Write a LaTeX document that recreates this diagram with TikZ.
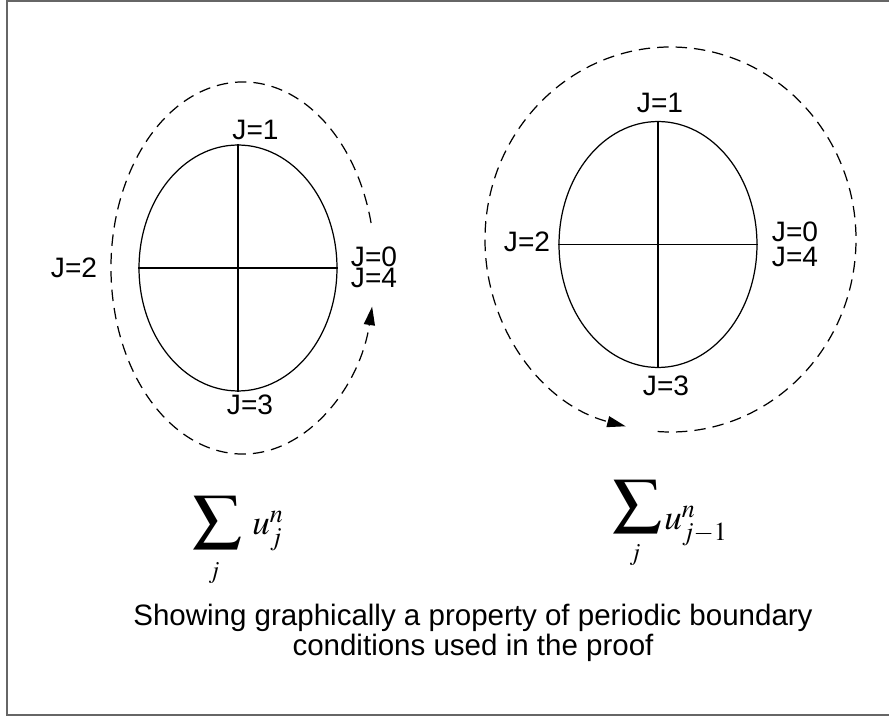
\documentclass[tikz,border=0pt]{standalone}
\usepackage{graphicx}
\usepackage{mathptmx}
\usepackage[no-math]{fontspec}
\setmainfont{Liberation Sans}
\usetikzlibrary{arrows.meta,shapes.geometric}

\begin{document}
\begin{tikzpicture}[x=0.02cm,y=0.02cm,
  ring/.style={draw,ellipse,line width=0.7pt,minimum width=3.96cm,minimum height=4.92cm,inner sep=0pt},
  lab/.style={font=\fontsize{16}{17}\selectfont,inner sep=0pt,anchor=base},
  flow/.style={line width=0.7pt,dash pattern=on 6.5pt off 4pt,-{Triangle[length=10.5pt,width=6.3pt]}},
  axis/.style={line width=0.7pt},
  frame/.style={line width=1.1pt,draw=black!60},
  sigma/.style={inner sep=0pt},
  term/.style={font=\fontsize{20}{24}\selectfont,inner sep=0pt,anchor=base west},
  index/.style={font=\fontsize{14}{16}\selectfont,inner sep=0pt}
]
\useasboundingbox (0,0) rectangle (889,717);
% frame
\coordinate (ftr) at (895,716);
\coordinate (ftl) at (7,716);
\coordinate (fbl) at (7,2);
\coordinate (fbr) at (895,2);
\draw[frame] (ftr) -- (ftl) -- (fbl) -- (fbr);
% left picture
\node[ring] (ringL) at (238,449) {};
\draw[axis] (ringL.west) -- (ringL.east);
\draw[axis] (ringL.north) -- (ringL.south);
\node[lab] (L1) at (255.5,577) {J=1};
\node[lab] (L2) at (74,439) {J=2};
\node[lab] (L0) at (374,450) {J=0};
\node[lab] (L4) at (374,429) {J=4};
\node[lab] (L3) at (250,302) {J=3};
\coordinate (cL) at (243,449);
\draw[flow] ([shift={(14:132 and 186)}]cL) arc[start angle=14,end angle=348,x radius=132,y radius=186];
% right picture
\node[ring] (ringR) at (658,472.5) {};
\draw[axis] (ringR.west) -- (ringR.east);
\draw[axis] (ringR.north) -- (ringR.south);
\node[lab] (R1) at (660,604) {J=1};
\node[lab] (R2) at (527,465) {J=2};
\node[lab] (R0) at (795,475) {J=0};
\node[lab] (R4) at (795,450) {J=4};
\node[lab] (R3) at (666,321) {J=3};
\coordinate (cR) at (670.5,477.5);
\draw[flow] ([shift={(-94:185.5 and 192.5)}]cR) arc[start angle=-94,end angle=256,x radius=185.5,y radius=192.5];
% sums
\node[sigma] (sigL) at (217.5,194) {\resizebox*{1cm}{1.06cm}{$\displaystyle\sum$}};
\node[term] (uL) at (252,182) {$u_j^n$};
\node[index] (jL) at (214,144) {$j$};
\node[sigma] (sigR) at (637.5,210) {\resizebox*{1cm}{1.06cm}{$\displaystyle\sum$}};
\node[term] (uR) at (664,187) {$u_{j-1}^n$};
\node[index] (jR) at (635,162) {$j$};
% caption
\node[font=\fontsize{16.8}{17.2}\selectfont,align=center] (cap) at (473,84) {Showing graphically a property of periodic boundary\\conditions used in the proof};
\end{tikzpicture}
\end{document}
